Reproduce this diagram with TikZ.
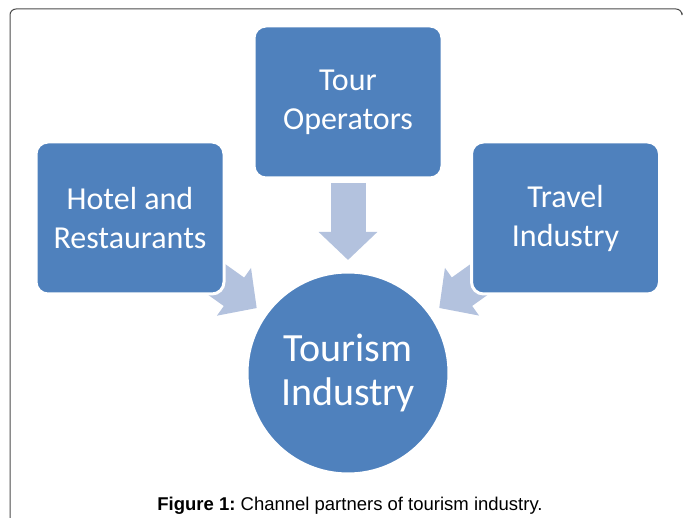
\documentclass[tikz,border=0pt]{standalone}
\usepackage{fontspec}
\setmainfont{Carlito}
\newfontfamily\capfont{Liberation Sans}
\usepackage{tikz}
\usetikzlibrary{arrows.meta, backgrounds, positioning}
\definecolor{OfficeBlue}{HTML}{4F81BD}
\definecolor{FlowBlue}{RGB}{179,194,222}

\begin{document}
\begin{tikzpicture}[x=1pt, y=-1pt,
    box/.style={rectangle, rounded corners=12pt, minimum width=188pt, minimum height=152pt, fill=OfficeBlue, draw=white, line width=3pt, outer sep=0pt, text=white, align=center, font=\fontsize{32}{39}\selectfont},
    hub/.style={circle, minimum size=202pt, fill=OfficeBlue, draw=white, line width=3pt, outer sep=0pt, text=white, align=center, font=\fontsize{40}{44}\selectfont},
    flow/.style={line width=35pt, draw=FlowBlue, -{Triangle[length=28pt, width=57pt]}}]
    \useasboundingbox (0,0) rectangle (683,518);
    % frame
    \draw[black!70, line width=1pt, rounded corners=6pt] (682,13) -- (682,9) -- (10,9) -- (10,519);

    \node[hub] (ind) at (348,373) {Tourism\\Industry};
    \node[box, above=94pt of ind] (oper) {Tour\\Operators};
    \node[box] (hotel) at (130,218) {Hotel and\\Restaurants};
    \node[box] (travel) at (565.5,218) {Travel\\Industry};

    \begin{scope}[on background layer]
        \draw[flow, shorten <=5pt, shorten >=12pt] (oper) -- (ind);
        \draw[flow, shorten <=-30pt, shorten >=11pt] (hotel) -- (ind);
        \draw[flow, shorten <=-30pt, shorten >=11pt] (travel) -- (ind);
    \end{scope}

    % caption
    \node[font=\capfont\fontsize{18.5}{22}\selectfont, anchor=base] (cap) at (350,511) {\textbf{Figure 1:}~Channel partners of tourism industry.};
\end{tikzpicture}
\end{document}
